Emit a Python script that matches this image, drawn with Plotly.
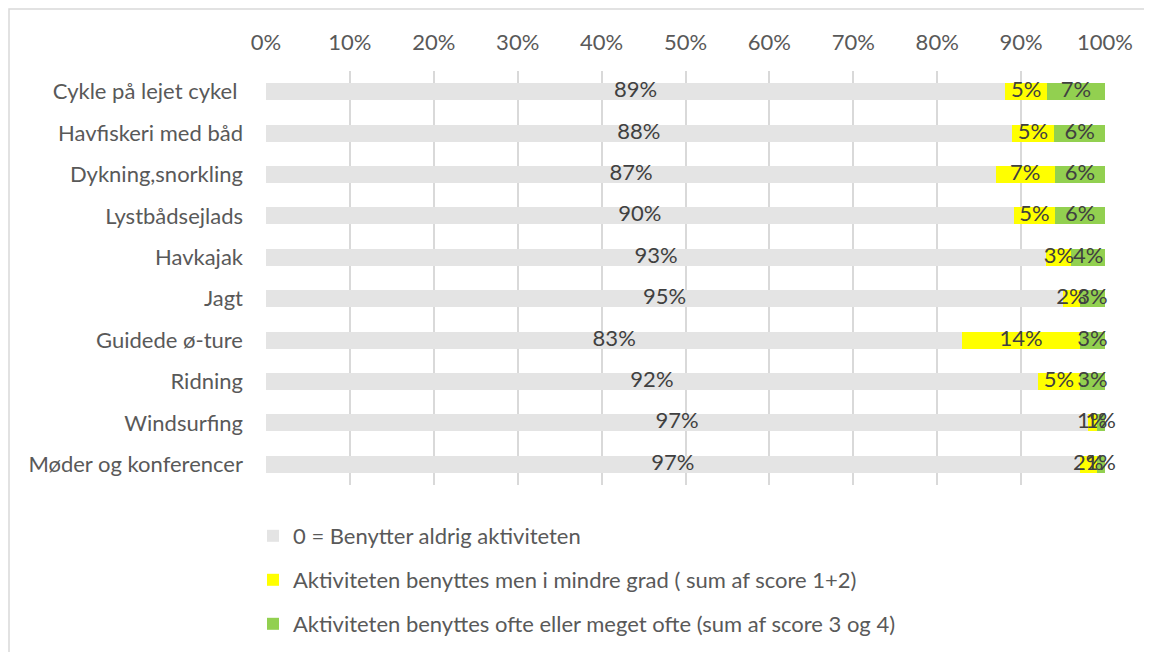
import plotly.graph_objects as go

categories = ["Cykle på lejet cykel ", "Havfiskeri med båd", "Dykning,snorkling", "Lystbådsejlads",
              "Havkajak", "Jagt", "Guidede ø-ture", "Ridning", "Windsurfing", "Møder og konferencer"]
never = [89, 88, 87, 90, 93, 95, 83, 92, 97, 97]
less = [5, 5, 7, 5, 3, 2, 14, 5, 1, 2]
often = [7, 6, 6, 6, 4, 3, 3, 3, 1, 1]
series_names = ["0 = Benytter aldrig aktiviteten",
                "Aktiviteten benyttes men i mindre grad ( sum af score 1+2)",
                "Aktiviteten benyttes ofte eller meget ofte (sum af score 3 og 4)"]
colors = ["#E4E4E4", "#FFFF00", "#92D050"]
xticks = list(range(0, 101, 10))

FONT = "Lato"
FS = 22
SH = 8  # page body offset

series = [never, less, often]
totals = [sum(t) for t in zip(*series)]
norm = [[v / tot * 100 for v, tot in zip(s, totals)] for s in series]

fig = go.Figure()
legend_ids = ["legend", "legend2", "legend3"]
for i, (name, vals, col) in enumerate(zip(series_names, norm, colors)):
    fig.add_trace(go.Bar(
        y=categories, x=vals, name=name, orientation="h",
        marker=dict(color=col, line=dict(width=0)),
        legend=legend_ids[i], hoverinfo="skip",
    ))

# data labels at the centre of each (normalised) segment
cum = [0.0] * len(categories)
for vals, raw in zip(norm, series):
    centers = [c + v / 2 for c, v in zip(cum, vals)]
    cum = [c + v for c, v in zip(cum, vals)]
    fig.add_trace(go.Scatter(
        x=centers, y=categories, mode="text", text=[f"{r}%" for r in raw],
        textposition="middle center", cliponaxis=False, showlegend=False, hoverinfo="skip",
        textfont=dict(family=FONT, size=FS, color="#404040"),
    ))

L, R, T, B = 266 - SH, 1105 - SH, 71 - SH, 485 - SH
W, H = 1152, 652
fig.update_layout(
    barmode="stack", bargap=0.59, showlegend=True,
    width=W, height=H,
    margin=dict(l=L, r=W - R, t=T, b=H - B),
    paper_bgcolor="white", plot_bgcolor="white",
    font=dict(family=FONT, size=FS, color="#595959"),
    xaxis=dict(side="top", range=[0, 100], tickvals=xticks, ticktext=[f"{t}%" for t in xticks],
               showgrid=True, gridcolor="#D9D9D9", gridwidth=1.5, zeroline=False,
               showline=False, ticks="", ticklabelstandoff=16,
               tickfont=dict(family=FONT, size=FS, color="#595959")),
    yaxis=dict(autorange="reversed", showgrid=False, zeroline=False, showline=False, ticks="",
               ticklabelstandoff=22, tickfont=dict(family=FONT, size=FS, color="#595959")),
)
ph = float(B - T)
pw = float(R - L)
def py(page_y):
    return 1 - (page_y - SH - T) / ph
def pxx(page_x):
    return (page_x - SH - L) / pw
for lid, ypx in zip(legend_ids, [536, 580, 624]):
    fig.layout[lid] = dict(x=pxx(253), y=py(ypx), xanchor="left", yanchor="middle",
                           orientation="v", bgcolor="rgba(0,0,0,0)",
                           font=dict(family=FONT, size=FS, color="#595959"),
                           itemwidth=30, tracegroupgap=0, visible=True)
fig.add_shape(type="rect", xref="paper", yref="paper",
              x0=pxx(9), x1=pxx(1175), y0=py(680), y1=py(9),
              line=dict(color="#D9D9D9", width=1.5), fillcolor="rgba(0,0,0,0)", layer="below")
fig.write_html("out.html")
